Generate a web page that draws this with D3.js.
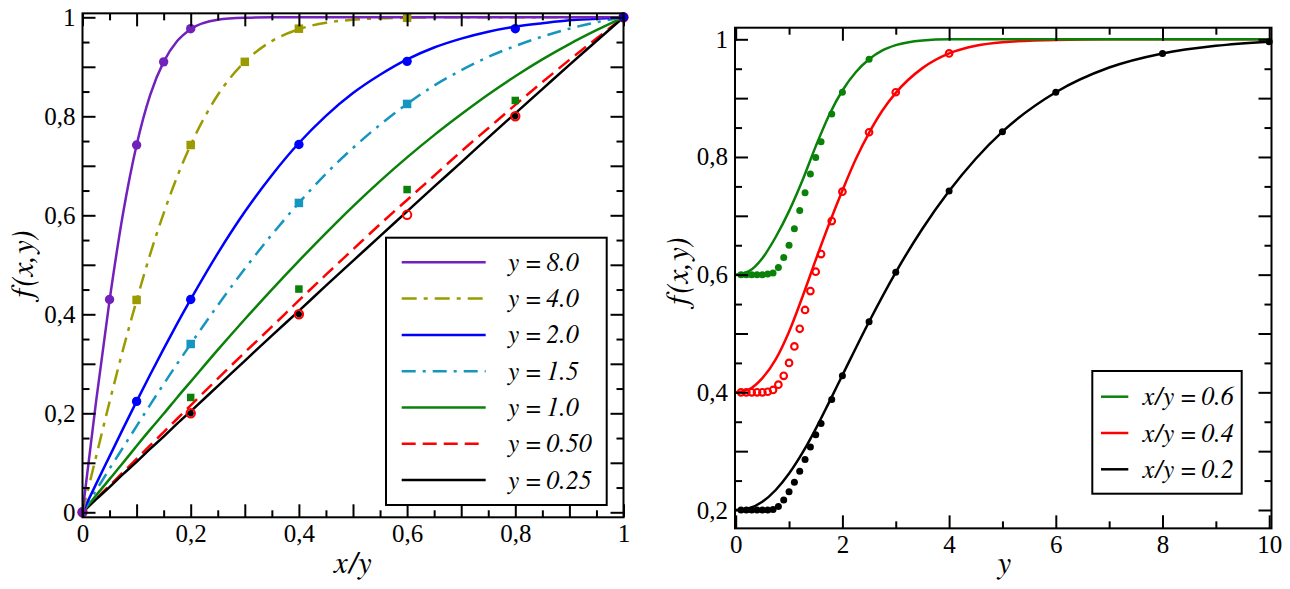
<!DOCTYPE html>
<html><head><meta charset="utf-8">
<script src="https://cdn.jsdelivr.net/npm/d3@7"></script>
<style>
html,body{margin:0;padding:0;background:#fff;}
</style></head>
<body><svg id="c" width="1290" height="589"></svg>
<script>
// ---------- LEFT PANEL DATA: f(x,y) vs x/y ----------
const tGrid = [0,0.025,0.05,0.075,0.1,0.125,0.15,0.175,0.2,0.25,0.3,0.35,0.4,0.45,0.5,0.55,0.6,0.65,0.7,0.75,0.8,0.85,0.9,0.95,1];
const curveY80 = [0,0.223,0.428,0.604,0.742,0.843,0.910,0.952,0.976,0.995,0.999,1,1,1,1,1,1,1,1,1,1,1,1,1,1];
const curveY40 = [0,0.112,0.223,0.329,0.428,0.521,0.604,0.678,0.742,0.843,0.910,0.952,0.976,0.989,0.995,0.998,0.999,1,1,1,1,1,1,1,1];
const curveY20 = [0,0.057,0.113,0.169,0.224,0.278,0.330,0.381,0.430,0.523,0.607,0.681,0.746,0.801,0.847,0.884,0.915,0.939,0.957,0.971,0.981,0.988,0.994,0.997,1];
const curveY15 = [0,0.044,0.088,0.131,0.174,0.217,0.259,0.300,0.340,0.418,0.492,0.561,0.625,0.684,0.736,0.783,0.825,0.862,0.893,0.920,0.942,0.961,0.977,0.990,1];
const curveY10 = [0,0.034,0.067,0.100,0.134,0.167,0.199,0.232,0.264,0.328,0.390,0.450,0.508,0.564,0.618,0.669,0.717,0.762,0.804,0.844,0.881,0.915,0.946,0.974,1];
const curveY05 = [0,0.027,0.054,0.081,0.108,0.135,0.162,0.189,0.216,0.270,0.323,0.375,0.428,0.480,0.531,0.582,0.631,0.680,0.729,0.776,0.823,0.869,0.914,0.957,1];
const curveY025 = [0,0.026,0.051,0.077,0.102,0.128,0.153,0.179,0.204,0.255,0.306,0.357,0.407,0.458,0.508,0.558,0.608,0.658,0.707,0.757,0.806,0.855,0.904,0.952,1];

const ptsY80T = [0,0.05,0.1,0.15,0.2],          ptsY80V = [0,0.43,0.742,0.91,0.977];
const ptsY40T = [0.1,0.2,0.3,0.4,0.6],          ptsY40V = [0.429,0.742,0.91,0.977,0.999];
const ptsY20T = [0,0.1,0.2,0.4,0.6,0.8,1],      ptsY20V = [0,0.224,0.43,0.743,0.911,0.977,1];
const ptsY15T = [0.2,0.4,0.6],                  ptsY15V = [0.34,0.625,0.825];
const ptsY10T = [0.2,0.4,0.6,0.8],              ptsY10V = [0.232,0.451,0.652,0.832];
const ptsY05T = [0,0.2,0.4,0.6,0.8,1],          ptsY05V = [0,0.2,0.4,0.601,0.8,1];
const ptsY025T = [0,0.2,0.4,0.8],               ptsY025V = [0,0.2,0.4,0.8];

const leftLabels = ["y = 8.0","y = 4.0","y = 2.0","y = 1.5","y = 1.0","y = 0.50","y = 0.25"];

// ---------- RIGHT PANEL DATA: f(x,y) vs y ----------
const lineR06Y = [0,0.25,0.5,0.75,1,1.25,1.5,1.75,2,2.25,2.5,2.75,3,3.5,4,5,6,8,10];
const lineR06V = [0.600,0.606,0.628,0.664,0.708,0.760,0.818,0.871,0.913,0.944,0.966,0.981,0.990,0.998,1,1,1,1,1];
const lineR04Y = [0,0.25,0.5,0.75,1,1.25,1.5,1.75,2,2.25,2.5,2.75,3,3.5,4,4.5,5,6,7,8,10];
const lineR04V = [0.400,0.405,0.424,0.456,0.503,0.562,0.625,0.686,0.743,0.796,0.841,0.879,0.909,0.951,0.976,0.989,0.995,0.999,1,1,1];
const lineR02Y = [0,0.25,0.5,0.75,1,1.25,1.5,1.75,2,2.5,3,3.5,4,4.5,5,6,7,8,9,10];
const lineR02V = [0.200,0.203,0.214,0.234,0.262,0.297,0.338,0.383,0.429,0.520,0.604,0.678,0.742,0.797,0.843,0.910,0.952,0.976,0.989,0.996];

const dotsR06Y = [0.1,0.2,0.3,0.4,0.5,0.6,0.7,0.8,0.9,1.0,1.1,1.2,1.3,1.4,1.5,1.6,1.8,2.0,2.5];
const dotsR06V = [0.600,0.600,0.600,0.600,0.600,0.601,0.603,0.612,0.629,0.650,0.678,0.709,0.739,0.771,0.799,0.826,0.873,0.910,0.966];
const dotsR04Y = [0.1,0.2,0.3,0.4,0.5,0.6,0.7,0.8,0.9,1.0,1.1,1.2,1.3,1.4,1.5,1.6,1.8,2.0,2.5,3.0,4.0];
const dotsR04V = [0.400,0.400,0.400,0.400,0.400,0.401,0.404,0.413,0.428,0.450,0.478,0.508,0.540,0.572,0.605,0.635,0.691,0.741,0.842,0.910,0.976];
const dotsR02Y = [0.1,0.2,0.3,0.4,0.5,0.6,0.7,0.8,0.9,1.0,1.1,1.2,1.3,1.4,1.5,1.6,1.8,2.0,2.5,3,4,5,6,8,10];
const dotsR02V = [0.200,0.200,0.200,0.200,0.200,0.200,0.201,0.206,0.217,0.231,0.247,0.266,0.286,0.307,0.328,0.347,0.388,0.428,0.520,0.604,0.742,0.843,0.910,0.976,0.996];

const rightLabels = ["x/y = 0.6","x/y = 0.4","x/y = 0.2"];

// ---------- STYLE ----------
const FF = '"Liberation Serif", "Times New Roman", serif';
const FI = '"FreeSerif", "Liberation Serif", serif';
const C = {purple:"#7221bc", olive:"#9b9b00", blue:"#0000ff", cyan:"#1596c0", green:"#0a820a", red:"#ff0000", black:"#000000"};
const svg = d3.select("#c");
const FONT = 25;
const fmt = d => (Math.abs(d-Math.round(d))<1e-9) ? String(Math.round(d)) : d.toFixed(1).replace(".", ",");
const ital = (sel, size) => sel.style("font-family", FI).style("font-style","italic").style("font-size", size+"px");

function frameAxes(g, x, y, xFrame, yFrame, xMaj, xMin, xLab, yMaj, yMin, yLab) {
  const L = x(xFrame[0]), R = x(xFrame[1]), T = y(yFrame[1]), B = y(yFrame[0]);
  const mk = (axisFn, scale, vals, size, labFn, tr, pad) => {
    const a = g.append("g").attr("transform", tr)
      .call(axisFn(scale).tickValues(vals).tickSize(size).tickPadding(pad).tickFormat(labFn));
    a.select(".domain").remove();
    a.selectAll("line").attr("stroke","#000").attr("stroke-width",2);
    a.selectAll("text").style("font-family",FF).style("font-size",FONT+"px").attr("fill","#000");
    return a;
  };
  const none = () => "";
  const xl = d => xLab.some(v=>Math.abs(v-d)<1e-9) ? fmt(d) : "";
  const yl = d => yLab.some(v=>Math.abs(v-d)<1e-9) ? fmt(d) : "";
  mk(d3.axisBottom, x, xMaj, -13, xl, `translate(0,${B})`, 7);
  mk(d3.axisBottom, x, xMin, -7, none, `translate(0,${B})`, 7);
  mk(d3.axisTop, x, xMaj, -13, none, `translate(0,${T})`, 7);
  mk(d3.axisTop, x, xMin, -7, none, `translate(0,${T})`, 7);
  mk(d3.axisLeft, y, yMaj, -13, yl, `translate(${L},0)`, 7);
  mk(d3.axisLeft, y, yMin, -7, none, `translate(${L},0)`, 7);
  mk(d3.axisRight, y, yMaj, -13, none, `translate(${R},0)`, 7);
  mk(d3.axisRight, y, yMin, -7, none, `translate(${R},0)`, 7);
  g.append("rect").attr("x",L).attr("y",T).attr("width",R-L).attr("height",B-T)
    .attr("fill","none").attr("stroke","#000").attr("stroke-width",2);
  return {L,R,T,B};
}

// ================= LEFT PANEL =================
const xL = d3.scaleLinear().domain([0,1]).range([82.5,623.5]);
const yL = d3.scaleLinear().domain([0,1]).range([512.3,17.3]);
const gL = svg.append("g");
const gLdata = gL.append("g");

const rng = (a,b,s) => d3.range(Math.round((b-a)/s)+1).map(i => +(a+i*s).toFixed(4));
const fL = frameAxes(gL, xL, yL, [0,1], [-0.0101,1.008],
  rng(0,1,0.1), rng(0.05,0.95,0.1), rng(0,1,0.2),
  rng(0,1,0.1), rng(0.05,0.95,0.1), rng(0,1,0.2));

const lineL = d3.line().x(d=>xL(d[0])).y(d=>yL(d[1])).curve(d3.curveMonotoneX);
const leftSeries = [
  {vals:curveY025, col:C.black, dash:null,       pt:[ptsY025T,ptsY025V], mk:"dot"},
  {vals:curveY05,  col:C.red,   dash:"14,7",     pt:[ptsY05T,ptsY05V],   mk:"ring"},
  {vals:curveY10,  col:C.green, dash:null,       pt:[ptsY10T,ptsY10V],   mk:"sq7"},
  {vals:curveY15,  col:C.cyan,  dash:"14,7,3,7", pt:[ptsY15T,ptsY15V],   mk:"sq8"},
  {vals:curveY20,  col:C.blue,  dash:null,       pt:[ptsY20T,ptsY20V],   mk:"circ"},
  {vals:curveY40,  col:C.olive, dash:"15,7,4,7", pt:[ptsY40T,ptsY40V],   mk:"sq8"},
  {vals:curveY80,  col:C.purple,dash:null,       pt:[ptsY80T,ptsY80V],   mk:"circ"}
];
const order = [1,0,2,3,4,5,6];
order.forEach(i => {
  const s = leftSeries[i];
  gLdata.append("path").datum(tGrid.map((t,k)=>[t,s.vals[k]]))
    .attr("d", lineL).attr("fill","none").attr("stroke", s.col).attr("stroke-width",2.5)
    .attr("stroke-dasharray", s.dash);
});
order.forEach(i => {
  const s = leftSeries[i];
  const pts = s.pt[0].map((t,k)=>[t,s.pt[1][k]]);
  const sel = gLdata.append("g").selectAll("*").data(pts);
  if (s.mk === "ring") sel.enter().append("circle").attr("cx",d=>xL(d[0])).attr("cy",d=>yL(d[1])).attr("r",4.2)
      .attr("fill","none").attr("stroke",s.col).attr("stroke-width",2);
  else if (s.mk === "dot") sel.enter().append("circle").attr("cx",d=>xL(d[0])).attr("cy",d=>yL(d[1])).attr("r",3.1)
      .attr("fill",s.col);
  else if (s.mk === "circ") sel.enter().append("circle").attr("cx",d=>xL(d[0])).attr("cy",d=>yL(d[1])).attr("r",4.7)
      .attr("fill",s.col);
  else { const a = s.mk==="sq7"?7.5:8.5;
    sel.enter().append("rect").attr("x",d=>xL(d[0])-a/2).attr("y",d=>yL(d[1])-a/2).attr("width",a).attr("height",a)
      .attr("fill",s.col); }
});
gL.append("clipPath").attr("id","clipL").append("rect").attr("x",fL.L-6).attr("y",fL.T-6).attr("width",fL.R-fL.L+12).attr("height",fL.B-fL.T+12);
gLdata.attr("clip-path","url(#clipL)");
gLdata.lower();

const legL = gL.append("g");
legL.append("rect").attr("x",386).attr("y",237.7).attr("width",220.7).attr("height",267.3)
  .attr("fill","#fff").attr("stroke","#000").attr("stroke-width",2);
const legLSeries = [6,5,4,3,2,1,0];
legLSeries.forEach((si,i) => {
  const s = leftSeries[si], yy = 262.3 + i*36.3;
  legL.append("line").attr("x1",401.7).attr("x2",485.7).attr("y1",yy).attr("y2",yy)
    .attr("stroke",s.col).attr("stroke-width",2.5).attr("stroke-dasharray",s.dash);
  ital(legL.append("text").attr("x",506.7).attr("y",yy+8.5), 26).text(leftLabels[i]);
});
ital(gL.append("text").attr("x",352.5).attr("y",573).attr("text-anchor","middle"), 31).text("x/y");
ital(gL.append("text").attr("transform","translate(33,265) rotate(-90)").attr("text-anchor","middle"), 31).text("f(x,y)");

// ================= RIGHT PANEL =================
const xR = d3.scaleLinear().domain([0,10]).range([735.7,1269.2]);
const yR = d3.scaleLinear().domain([0.2,1]).range([510,39.3]);
const gR = svg.append("g");
const gRdata = gR.append("g");
const fR = frameAxes(gR, xR, yR, [-0.013,10.043], [0.1688,1.0197],
  rng(0,10,2), rng(1,9,2), rng(0,10,2),
  rng(0.2,1,0.1), rng(0.25,0.95,0.1), rng(0.2,1,0.2));

const lineR = d3.line().x(d=>xR(d[0])).y(d=>yR(d[1])).curve(d3.curveMonotoneX);
const rightSeries = [
  {x:lineR02Y, v:lineR02V, col:C.black, dx:dotsR02Y, dv:dotsR02V, ring:false},
  {x:lineR04Y, v:lineR04V, col:C.red,   dx:dotsR04Y, dv:dotsR04V, ring:true},
  {x:lineR06Y, v:lineR06V, col:C.green, dx:dotsR06Y, dv:dotsR06V, ring:false}
];
rightSeries.forEach(s => {
  gRdata.append("path").datum(s.x.map((t,k)=>[t,s.v[k]])).attr("d",lineR)
    .attr("fill","none").attr("stroke",s.col).attr("stroke-width",2.5);
});
rightSeries.forEach(s => {
  const c = gRdata.append("g").selectAll("circle").data(s.dx.map((t,k)=>[t,s.dv[k]])).enter().append("circle")
    .attr("cx",d=>xR(d[0])).attr("cy",d=>yR(d[1]));
  if (s.ring) c.attr("r",3.3).attr("fill","none").attr("stroke",s.col).attr("stroke-width",2.1);
  else c.attr("r",3.5).attr("fill",s.col);
});
gR.append("clipPath").attr("id","clipR").append("rect").attr("x",fR.L-5).attr("y",fR.T-5).attr("width",fR.R-fR.L+10).attr("height",fR.B-fR.T+10);
gRdata.attr("clip-path","url(#clipR)");
gRdata.lower();

const legR = gR.append("g");
legR.append("rect").attr("x",1092.3).attr("y",371).attr("width",149.4).attr("height",122.7)
  .attr("fill","#fff").attr("stroke","#000").attr("stroke-width",2);
[C.green,C.red,C.black].forEach((col,i) => {
  const yy = 396.7 + i*36.3;
  legR.append("line").attr("x1",1101).attr("x2",1128.3).attr("y1",yy).attr("y2",yy)
    .attr("stroke",col).attr("stroke-width",2.5);
  ital(legR.append("text").attr("x",1142.7).attr("y",yy+8.5), 26).text(rightLabels[i]);
});
ital(gR.append("text").attr("x",1003.5).attr("y",573).attr("text-anchor","middle"), 31).text("y");
ital(gR.append("text").attr("transform","translate(688,272) rotate(-90)").attr("text-anchor","middle"), 31).text("f(x,y)");
</script></body></html>
